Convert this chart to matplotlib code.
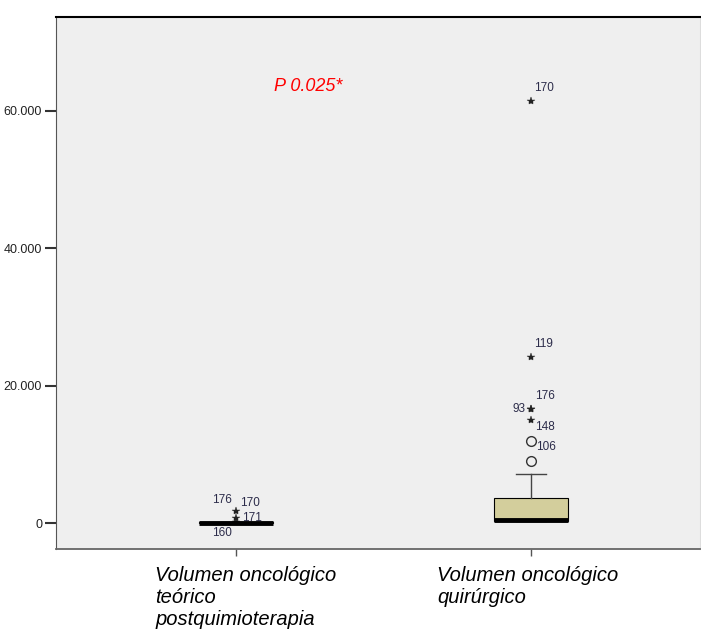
import numpy as np
import matplotlib.pyplot as plt
import matplotlib.transforms as mtrans
from matplotlib.ticker import FuncFormatter

plt.rcParams['font.family'] = ['Liberation Sans', 'DejaVu Sans']

# data
groups = ["Volumen oncológico\nteórico\npostquimioterapia",
          "Volumen oncológico\nquirúrgico"]
q1 = [0, 250]
med = [40, 450]
q3 = [120, 3640]
whislo = [0, 250]
whishi = [200, 7150]

# outliers: group index, value, marker
out_group = [0, 0, 0, 1, 1, 1, 1, 1, 1, 1]
out_value = [1745, 730, 150, 61380, 24150, 16580, 14980, 11930, 9020, 16580]
out_marker = ['*', '*', '*', '*', '*', '*', '*', 'o', 'o', '*']

# case labels with their point index
lab_text = ["176", "170", "171", "160", "170", "119", "176", "93", "148", "106"]
lab_point = [0, 0, 1, 2, 3, 4, 5, 9, 6, 7]
lab_off = [(-4, 11), (4, 8), (6, 0), (-4, -11), (3, 13), (3, 13), (4, 13),
           (-5, 0), (4, -7), (5, -6)]
lab_ha = ['right', 'left', 'left', 'right', 'left', 'left', 'left', 'right',
          'left', 'left']

p_text = "P 0.025*"

fig = plt.figure(figsize=(7.01, 6.31), dpi=100)
ax = fig.add_axes([56/701, 82/631, 644/701, 532/631])
ax.set_facecolor('#efefef')

pos = [1, 2]
stats = []
for i in range(2):
    stats.append(dict(med=med[i], q1=q1[i], q3=q3[i],
                      whislo=whislo[i], whishi=whishi[i], fliers=[]))
ax.bxp(stats, positions=pos, widths=0.25, patch_artist=True,
       showfliers=False,
       boxprops=dict(facecolor='#d3ce9c', edgecolor='black', linewidth=0.8),
       medianprops=dict(color='black', linewidth=3.5, solid_capstyle='butt'),
       whiskerprops=dict(color='#444444', linewidth=1),
       capprops=dict(color='#444444', linewidth=1), capwidths=0.1)

for g, v, m in zip(out_group, out_value, out_marker):
    if m == 'o':
        ax.plot(pos[g], v, marker='o', ms=7, mfc='none', mec='#333333', mew=1)
    else:
        ax.plot(pos[g], v, marker='*', ms=6, color='#222222', mew=0.3)

for t, p, off, ha in zip(lab_text, lab_point, lab_off, lab_ha):
    ax.annotate(t, (pos[out_group[p]], out_value[p]), xytext=off,
                textcoords='offset pixels', ha=ha, va='center',
                fontsize=8.5, color='#2c2c4a')

ax.text(1.13, 63560, p_text, color='red', fontsize=13, style='italic',
        ha='left', va='center')

ax.set_xlim(0.39, 2.573)
ax.set_ylim(-3780, 73600)
ax.set_yticks([0, 20000, 40000, 60000])
ax.yaxis.set_major_formatter(FuncFormatter(lambda v, p: f"{int(v):,}".replace(',', '.')))
ax.tick_params(axis='y', length=8, width=1.5, color='#333333',
               labelsize=9, labelcolor='#222222', pad=2)
ax.set_xticks(pos)
ax.set_xticklabels(groups, style='italic', fontsize=14.5, ha='center',
                   multialignment='left', linespacing=1.2)
ax.tick_params(axis='x', length=5, width=1, color='#555555', pad=7)
# first label sits a bit right of its tick in the original
lbl = ax.get_xticklabels()[0]
lbl.set_transform(lbl.get_transform() + mtrans.ScaledTranslation(0.1, 0, fig.dpi_scale_trans))
lbl2 = ax.get_xticklabels()[1]
lbl2.set_transform(lbl2.get_transform() + mtrans.ScaledTranslation(-0.03, 0, fig.dpi_scale_trans))

ax.spines['top'].set_color('black')
ax.spines['top'].set_linewidth(1.5)
ax.spines['left'].set_color('#555555')
ax.spines['bottom'].set_color('#666666')
ax.spines['bottom'].set_linewidth(1.3)
ax.spines['right'].set_color('#dddddd')

fig.savefig('out.png', dpi=100)
